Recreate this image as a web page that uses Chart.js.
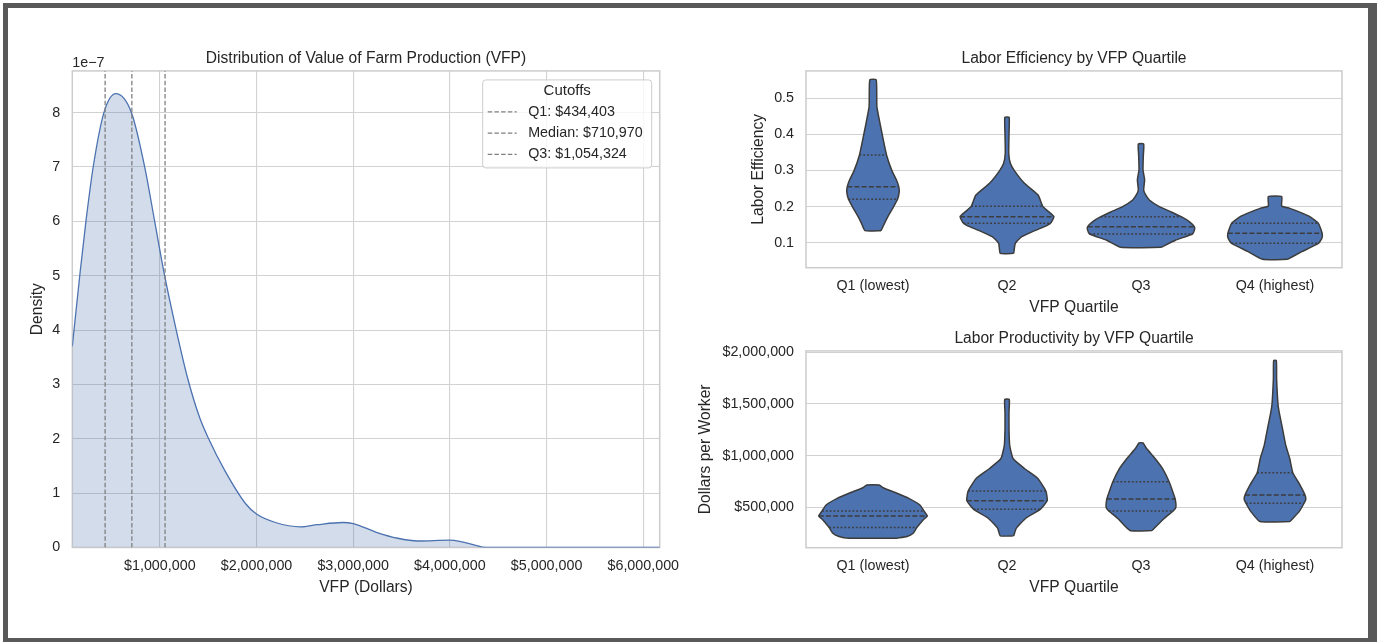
<!DOCTYPE html>
<html>
<head>
<meta charset="utf-8">
<script src="https://cdn.jsdelivr.net/npm/chart.js@4.4.1/dist/chart.umd.min.js"></script>
<style>
  html, body { margin: 0; padding: 0; background: #fff; }
  body { width: 1378px; height: 642px; position: relative; overflow: hidden; }
  canvas { position: absolute; }
  #frame { position: absolute; left: 3px; top: 3px; width: 1374px; height: 641px; box-sizing: border-box;
           border-style: solid; border-color: #595959; border-width: 5px 9px 6px 5px; pointer-events: none; }
</style>
</head>
<body>
<canvas id="kde" width="680" height="580" style="left:10px;top:40px"></canvas>
<canvas id="eff" width="626" height="300" style="left:740px;top:40px"></canvas>
<canvas id="prod" width="676" height="300" style="left:690px;top:320px"></canvas>
<div id="frame"></div>
<script>
// ---- data ----
const vfpValues = [95000, 175000, 236000, 311000, 422000, 545000, 707000, 844000, 947000, 1050000,
  1170000, 1290000, 1410000, 1500000, 1674000, 1890000, 2000000, 2196000, 2457000, 2630000, 2890000,
  3000000, 3240000, 3460000, 3670000, 4000000, 4110000, 4250000, 4370000, 6170000];
// density, in units of 1e-7
const vfpDensity = [3.7, 5.05, 6.0, 7.0, 8.0, 8.35, 8.0, 7.0, 6.0, 5.0,
  4.0, 3.1, 2.4, 2.02, 1.41, 0.8, 0.615, 0.46, 0.38, 0.42, 0.46,
  0.44, 0.28, 0.17, 0.12, 0.135, 0.11, 0.05, 0.0, 0.0];
const cutoffNames = ['Q1', 'Median', 'Q3'];
const cutoffValues = [434403, 710970, 1054324];
const vfpTicks = [1000000, 2000000, 3000000, 4000000, 5000000, 6000000];
const densityTicks = [0, 1, 2, 3, 4, 5, 6, 7, 8];

const quartileLabels = ['Q1 (lowest)', 'Q2', 'Q3', 'Q4 (highest)'];

// labor efficiency violins: levels and half widths (category units)
const effLevels = [
  [0.1333, 0.1536, 0.172, 0.2007, 0.2201, 0.2413, 0.2552, 0.2737, 0.2995, 0.343, 0.3938, 0.4307, 0.4769, 0.5508],
  [0.0704, 0.0982, 0.1166, 0.1305, 0.1443, 0.1536, 0.172, 0.1859, 0.2007, 0.2321, 0.2644, 0.2995, 0.3199, 0.3476, 0.4002, 0.4473],
  [0.0871, 0.1074, 0.124, 0.1369, 0.1443, 0.1582, 0.172, 0.1859, 0.1998, 0.2183, 0.2321, 0.246, 0.2737, 0.3014, 0.3383, 0.3734],
  [0.0538, 0.0751, 0.0982, 0.112, 0.1259, 0.1536, 0.172, 0.1859, 0.195, 0.2016, 0.2275]
];
const effHalfWidths = [
  [0.06, 0.086, 0.111, 0.155, 0.183, 0.196, 0.192, 0.175, 0.141, 0.101, 0.072, 0.052, 0.029, 0.024],
  [0.05, 0.062, 0.11, 0.19, 0.28, 0.324, 0.35, 0.31, 0.267, 0.232, 0.13, 0.055, 0.025, 0.013, 0.015, 0.016],
  [0.15, 0.26, 0.384, 0.4, 0.398, 0.36, 0.3, 0.22, 0.137, 0.062, 0.035, 0.02, 0.027, 0.015, 0.017, 0.02],
  [0.093, 0.2, 0.324, 0.35, 0.352, 0.324, 0.26, 0.175, 0.11, 0.05, 0.05]
];
const effQuartiles = [[0.2201, 0.2552, 0.343], [0.1536, 0.172, 0.2007], [0.124, 0.1443, 0.172], [0.0982, 0.1259, 0.1536]];
const effQuartileWidths = [[0.183, 0.192, 0.101], [0.324, 0.35, 0.267], [0.384, 0.398, 0.3], [0.324, 0.352, 0.324]];
const effTicks = [0.1, 0.2, 0.3, 0.4, 0.5];

// labor productivity violins
const prodLevels = [
  [201350, 217400, 249500, 304100, 378000, 416500, 464700, 522500, 586700, 650900, 689500, 715150],
  [223800, 297700, 394000, 481700, 564200, 657400, 779400, 875700, 972100, 1100500, 1261000, 1421600, 1543700],
  [275200, 394000, 464700, 500000, 580300, 650900, 747300, 875700, 972100, 1068400, 1123000],
  [361900, 458300, 539100, 577100, 618800, 715200, 834000, 972100, 1100500, 1261000, 1421600, 1501900, 1742800, 1919400]
];
const prodHalfWidths = [
  [0.18, 0.254, 0.3, 0.327, 0.374, 0.405, 0.38, 0.35, 0.267, 0.15, 0.075, 0.046],
  [0.05, 0.07, 0.14, 0.25, 0.3, 0.29, 0.23, 0.13, 0.045, 0.02, 0.015, 0.015, 0.017],
  [0.082, 0.175, 0.24, 0.26, 0.255, 0.237, 0.21, 0.16, 0.105, 0.042, 0.015],
  [0.112, 0.18, 0.217, 0.23, 0.224, 0.187, 0.133, 0.11, 0.08, 0.056, 0.031, 0.022, 0.012, 0.01]
];
const prodQuartiles = [[304100, 416500, 464700], [481700, 564200, 657400], [464700, 580300, 747300], [539100, 618800, 834000]];
const prodQuartileWidths = [[0.327, 0.405, 0.38], [0.25, 0.3, 0.29], [0.24, 0.255, 0.21], [0.217, 0.224, 0.133]];
const prodTicks = [500000, 1000000, 1500000, 2000000];

// ---- styles ----
const TEXT = '#262626';
const GRID = '#d2d2d2';
const BLUE = '#4c72b0';
const EDGE = '#3c3c3c';
const CUT = '#808080';
const FONT = "'Liberation Sans', Arial, sans-serif";
const DENSITY_MAX = 8.768;

Chart.defaults.font.family = FONT;
Chart.defaults.color = TEXT;
Chart.defaults.animation = false;

const money = (v) => '$' + Math.round(v).toLocaleString('en-US');

// light grey box around the plotting area
const framePlugin = {
  id: 'frame',
  beforeDatasetsDraw(chart) {
    const { ctx, chartArea: a } = chart;
    ctx.save();
    ctx.strokeStyle = '#cccccc';
    ctx.lineWidth = 1.5;
    ctx.strokeRect(a.left, a.top, a.right - a.left, a.bottom - a.top);
    ctx.restore();
  }
};

// legend box + offset text for the density chart
const cutoffLegend = {
  id: 'cutoffLegend',
  afterDatasetsDraw(chart) {
    const { ctx, chartArea: a } = chart;
    ctx.save();
    ctx.font = '14.3px ' + FONT;
    ctx.fillStyle = TEXT;
    ctx.textBaseline = 'middle';
    ctx.textAlign = 'left';
    ctx.fillText('1e\u22127', a.left, a.top - 8);

    const bx = a.right - 177, by = a.top + 9, bw = 169, bh = 88;
    ctx.beginPath();
    ctx.roundRect(bx, by, bw, bh, 3);
    ctx.fillStyle = 'rgba(255,255,255,0.8)';
    ctx.fill();
    ctx.strokeStyle = '#cccccc';
    ctx.lineWidth = 1;
    ctx.stroke();

    ctx.fillStyle = TEXT;
    ctx.textAlign = 'center';
    ctx.font = '15px ' + FONT;
    ctx.fillText('Cutoffs', bx + bw / 2, by + 11);
    ctx.font = '14.3px ' + FONT;
    ctx.textAlign = 'left';
    cutoffNames.forEach((name, i) => {
      const y = by + 32 + i * 21.2;
      ctx.strokeStyle = CUT;
      ctx.lineWidth = 1.3;
      ctx.setLineDash([4.5, 2.2]);
      ctx.beginPath();
      ctx.moveTo(bx + 5, y);
      ctx.lineTo(bx + 34, y);
      ctx.stroke();
      ctx.setLineDash([]);
      ctx.fillText(name + ': ' + money(cutoffValues[i]), bx + 45.5, y);
    });
    ctx.restore();
  }
};

function titleOpts(text) {
  return {
    display: true, text: text, color: TEXT, fullSize: false,
    font: { size: 15.6, weight: 'normal' },
    padding: { top: 9.4, bottom: 2.8 }
  };
}

function violinDatasets(levels, widths, quarts, quartWidths) {
  const sets = [];
  levels.forEach((ys, i) => {
    const ws = widths[i];
    const right = ys.map((y, k) => ({ x: i + ws[k], y: y }));
    const left = ys.map((y, k) => ({ x: i - ws[k], y: y })).reverse();
    sets.push({
      data: right.concat(left, [right[0]]),
      showLine: true, fill: 'shape', tension: 0.15,
      backgroundColor: BLUE, borderColor: EDGE, borderWidth: 1.5,
      pointRadius: 0, order: 2
    });
    quarts[i].forEach((q, k) => {
      const w = quartWidths[i][k];
      sets.push({
        data: [{ x: i - w, y: q }, { x: i + w, y: q }],
        showLine: true, fill: false,
        borderColor: EDGE, borderWidth: 1.5,
        borderDash: k === 1 ? [5, 2.2] : [1.8, 2],
        pointRadius: 0, order: 1
      });
    });
  });
  return sets;
}

function violinChart(id, title, yLabel, levels, widths, quarts, quartWidths, yTicks, yMin, yMax, yFmt, yWidth, yTitlePad) {
  return new Chart(document.getElementById(id), {
    type: 'scatter',
    data: { datasets: violinDatasets(levels, widths, quarts, quartWidths) },
    options: {
      responsive: false,
      devicePixelRatio: 1,
      layout: { padding: { left: 0, right: 24, top: 0, bottom: 12.3 } },
      plugins: { legend: { display: false }, tooltip: { enabled: false }, title: titleOpts(title) },
      scales: {
        x: {
          type: 'linear', min: -0.5, max: 3.5,
          afterBuildTicks: (s) => { s.ticks = quartileLabels.map((_, i) => ({ value: i })); },
          ticks: { callback: (v) => quartileLabels[v], font: { size: 14.3 }, color: TEXT, padding: 10.1, maxRotation: 0, autoSkip: false },
          grid: { display: false, drawTicks: false }, border: { display: false },
          title: { display: true, text: 'VFP Quartile', font: { size: 15.6 }, color: TEXT, padding: { top: 0, bottom: 10.3 } },
          afterFit: (s) => { s.height = 60; }
        },
        y: {
          type: 'linear', min: yMin, max: yMax,
          afterBuildTicks: (s) => { s.ticks = yTicks.map((v) => ({ value: v })); },
          ticks: { callback: yFmt, font: { size: 14.3 }, color: TEXT, padding: 12 },
          grid: { color: GRID, lineWidth: 1.1, drawTicks: false }, border: { display: false },
          title: { display: true, text: yLabel, font: { size: 15.6 }, color: TEXT, padding: { top: yTitlePad, bottom: 0 } },
          afterFit: (s) => { s.width = yWidth; }
        }
      }
    },
    plugins: [framePlugin]
  });
}

// ---- left: density of VFP ----
const cutoffSets = cutoffValues.map((v) => ({
  data: [{ x: v, y: 0 }, { x: v, y: DENSITY_MAX }],
  showLine: true, fill: false, borderColor: CUT, borderWidth: 1.3,
  borderDash: [4.5, 2.2], pointRadius: 0, order: 1
}));

new Chart(document.getElementById('kde'), {
  type: 'scatter',
  data: {
    datasets: cutoffSets.concat([{
      data: vfpValues.map((x, i) => ({ x: x, y: vfpDensity[i] })),
      showLine: true, fill: 'origin', cubicInterpolationMode: 'monotone',
      borderColor: BLUE, borderWidth: 1.3, backgroundColor: 'rgba(76,114,176,0.25)',
      pointRadius: 0, order: 2
    }])
  },
  options: {
    responsive: false,
    devicePixelRatio: 1,
    layout: { padding: { left: 0, right: 28, top: 0, bottom: 12.5 } },
    plugins: {
      legend: { display: false }, tooltip: { enabled: false },
      title: titleOpts('Distribution of Value of Farm Production (VFP)')
    },
    scales: {
      x: {
        type: 'linear', min: 95000, max: 6170000,
        afterBuildTicks: (s) => { s.ticks = vfpTicks.map((v) => ({ value: v })); },
        ticks: { callback: money, font: { size: 14.3 }, color: TEXT, padding: 10.1, maxRotation: 0, autoSkip: false },
        grid: { color: GRID, lineWidth: 1.1, drawTicks: false }, border: { display: false },
        title: { display: true, text: 'VFP (Dollars)', font: { size: 15.6 }, color: TEXT, padding: { top: 0, bottom: 10.3 } },
        afterFit: (s) => { s.height = 60; }
      },
      y: {
        type: 'linear', min: 0, max: DENSITY_MAX,
        afterBuildTicks: (s) => { s.ticks = densityTicks.map((v) => ({ value: v })); },
        ticks: { font: { size: 14.3 }, color: TEXT, padding: 12 },
        grid: { color: GRID, lineWidth: 1.1, drawTicks: false }, border: { display: false },
        title: { display: true, text: 'Density', font: { size: 15.6 }, color: TEXT, padding: { top: 17.9, bottom: 0 } },
        afterFit: (s) => { s.width = 62.3; }
      }
    }
  },
  plugins: [framePlugin, cutoffLegend]
});

// ---- right: violins ----
violinChart('eff', 'Labor Efficiency by VFP Quartile', 'Labor Efficiency',
  effLevels, effHalfWidths, effQuartiles, effQuartileWidths,
  effTicks, 0.0307, 0.5757, (v) => v.toFixed(1), 66, 9.6);

violinChart('prod', 'Labor Productivity by VFP Quartile', 'Dollars per Worker',
  prodLevels, prodHalfWidths, prodQuartiles, prodQuartileWidths,
  prodTicks, 109000, 2013000, money, 116, 6.6);
</script>
</body>
</html>
